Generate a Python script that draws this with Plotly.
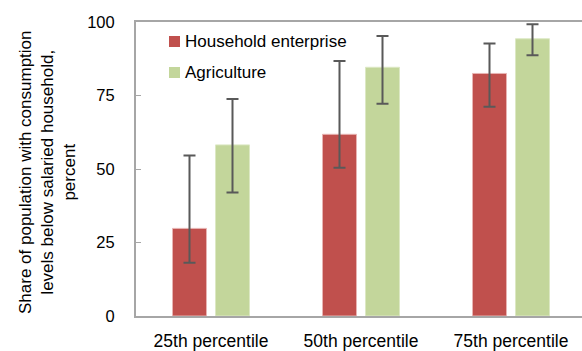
import plotly.graph_objects as go

# Consumption comparison against salaried households, by percentile
categories = ["25th percentile", "50th percentile", "75th percentile"]
series_names = ["Household enterprise", "Agriculture"]
household_enterprise = [29.8, 61.8, 82.5]
household_enterprise_hi = [54.6, 86.7, 92.7]
household_enterprise_lo = [18.1, 50.4, 71.2]
agriculture = [58.2, 84.6, 94.3]
agriculture_hi = [73.8, 95.2, 99.2]
agriculture_lo = [42.0, 72.2, 88.7]
y_ticks = [0, 25, 50, 75, 100]

RED = "#C0504D"
GREEN = "#C3D69B"
AXIS = "#A6A6A6"
FONT = "Liberation Sans, Arial, sans-serif"

W, H = 582, 351
L, R, T, B = 136, 0, 22, 35
PW, PH = W - L - R, H - T - B


def px_x(px):
    return (px - L) / PW


def px_y(py):
    return (H - B - py) / PH


def err(vals, hi, lo):
    return dict(
        type="data",
        symmetric=False,
        array=[h - v for v, h in zip(vals, hi)],
        arrayminus=[v - l for v, l in zip(vals, lo)],
        color="#595959",
        thickness=2,
        width=6,
    )


fig = go.Figure()
fig.add_trace(go.Bar(
    name=series_names[0], x=categories, y=household_enterprise,
    marker=dict(color=RED, line=dict(color="#E8B4B3", width=1)),
    error_y=err(household_enterprise, household_enterprise_hi, household_enterprise_lo),
    showlegend=False,
))
fig.add_trace(go.Bar(
    name=series_names[1], x=categories, y=agriculture,
    marker=dict(color=GREEN, line=dict(color="#DCE8C4", width=1)),
    error_y=err(agriculture, agriculture_hi, agriculture_lo),
    showlegend=False,
))

# Legend drawn as swatches + labels inside the plot
for i, (name, col) in enumerate(zip(series_names, [RED, GREEN])):
    cy = 41.5 + i * 31
    fig.add_shape(
        type="rect", xref="paper", yref="paper",
        x0=px_x(169), x1=px_x(180), y0=px_y(cy - 5.5), y1=px_y(cy + 5.5),
        fillcolor=col, line=dict(width=0),
    )
    fig.add_annotation(
        x=px_x(183), y=px_y(cy), xref="paper", yref="paper",
        text=name, showarrow=False, xanchor="left", yanchor="middle",
        font=dict(family=FONT, size=17, color="#000000"),
    )

# Y-axis title as a rotated three-line label
fig.add_annotation(
    x=px_x(47), y=px_y(172), xref="paper", yref="paper",
    text="Share of population with consumption<br>levels below salaried household,<br>percent",
    textangle=-90, showarrow=False, xanchor="center", yanchor="middle",
    font=dict(family=FONT, size=17, color="#000000"),
)

fig.update_layout(
    width=W, height=H,
    margin=dict(l=L, r=R, t=T, b=B, pad=0),
    paper_bgcolor="white", plot_bgcolor="white",
    barmode="group", bargap=0.4267, bargroupgap=0.209,
    font=dict(family=FONT, size=16, color="#000000"),
    xaxis=dict(
        range=[-0.5, -0.5 + PW / 150], showgrid=False, zeroline=False,
        showline=True, linecolor=AXIS, linewidth=2, mirror=True,
        ticks="", ticklabelstandoff=8,
        tickfont=dict(size=17.5, color="#000000"),
    ),
    yaxis=dict(
        range=[0, 100], tickvals=y_ticks, showgrid=False, zeroline=False,
        showline=True, linecolor=AXIS, linewidth=2,
        ticks="inside", ticklen=5, tickwidth=1, tickcolor=AXIS,
        ticklabelstandoff=16, tickfont=dict(size=16.5, color="#000000"),
    ),
)

fig.write_html("out.html")
